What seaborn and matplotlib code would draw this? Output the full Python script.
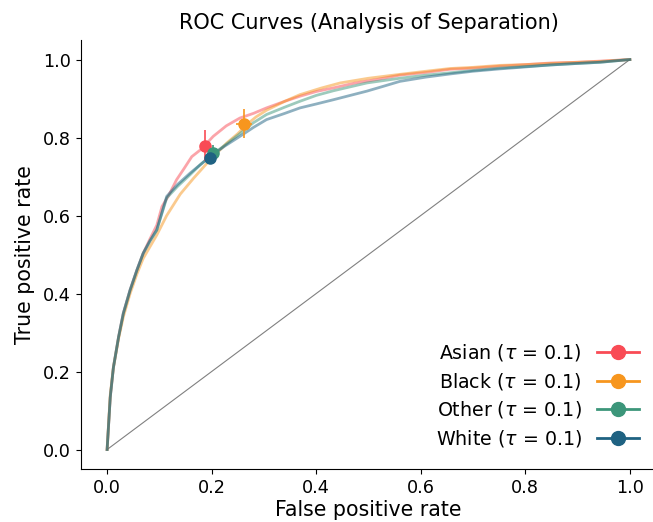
import numpy as np
import pandas as pd
import seaborn as sns
import matplotlib
matplotlib.use("Agg")
import matplotlib.pyplot as plt
from matplotlib.lines import Line2D

# ---------- data ----------
groups = ["Asian", "Black", "Other", "White"]
colors = ["#F94B55", "#F7961E", "#3C967A", "#1F6282"]

fpr_asian = [0.0, 0.006, 0.012, 0.022, 0.031, 0.044, 0.057, 0.069, 0.082, 0.095, 0.105, 0.118,
             0.133, 0.147, 0.162, 0.18, 0.203, 0.228, 0.254, 0.28, 0.305, 0.34, 0.369, 0.4,
             0.432, 0.475, 0.516, 0.56, 0.61, 0.656, 0.70, 0.751, 0.80, 0.847, 0.9, 0.943, 1.0]
tpr_asian = [0.0, 0.134, 0.21, 0.289, 0.349, 0.409, 0.46, 0.503, 0.54, 0.575, 0.623, 0.652,
             0.692, 0.72, 0.751, 0.77, 0.803, 0.83, 0.850, 0.862, 0.876, 0.893, 0.906, 0.918,
             0.927, 0.94, 0.949, 0.960, 0.967, 0.975, 0.978, 0.983, 0.987, 0.991, 0.993, 0.996, 1.0]

fpr_black = [0.0, 0.006, 0.012, 0.022, 0.031, 0.044, 0.057, 0.069, 0.082, 0.095, 0.114, 0.14,
             0.165, 0.195, 0.229, 0.25, 0.267, 0.285, 0.305, 0.34, 0.369, 0.41, 0.446, 0.5,
             0.56, 0.61, 0.656, 0.70, 0.751, 0.80, 0.847, 0.9, 0.943, 1.0]
tpr_black = [0.0, 0.14, 0.21, 0.285, 0.34, 0.40, 0.45, 0.49, 0.52, 0.55, 0.60, 0.655,
             0.695, 0.74, 0.786, 0.81, 0.833, 0.853, 0.870, 0.893, 0.910, 0.927, 0.940, 0.952,
             0.962, 0.97, 0.977, 0.98, 0.985, 0.987, 0.990, 0.993, 0.995, 1.0]

fpr_other = [0.0, 0.006, 0.012, 0.022, 0.031, 0.044, 0.057, 0.069, 0.082, 0.095, 0.114, 0.135,
             0.159, 0.178, 0.197, 0.225, 0.254, 0.28, 0.305, 0.34, 0.369, 0.4, 0.433, 0.465,
             0.497, 0.56, 0.61, 0.656, 0.70, 0.751, 0.80, 0.847, 0.9, 0.943, 1.0]
tpr_other = [0.0, 0.134, 0.21, 0.289, 0.349, 0.409, 0.46, 0.503, 0.535, 0.563, 0.645, 0.675,
             0.705, 0.73, 0.752, 0.78, 0.810, 0.838, 0.859, 0.878, 0.893, 0.908, 0.920, 0.93,
             0.940, 0.952, 0.96, 0.966, 0.972, 0.978, 0.982, 0.986, 0.99, 0.993, 1.0]

fpr_white = [0.0, 0.006, 0.012, 0.022, 0.031, 0.044, 0.057, 0.069, 0.082, 0.095, 0.114, 0.135,
             0.159, 0.178, 0.197, 0.225, 0.254, 0.28, 0.305, 0.34, 0.369, 0.4, 0.433, 0.465,
             0.497, 0.53, 0.56, 0.61, 0.656, 0.70, 0.751, 0.80, 0.847, 0.9, 0.943, 1.0]
tpr_white = [0.0, 0.134, 0.21, 0.289, 0.349, 0.409, 0.46, 0.503, 0.535, 0.563, 0.649, 0.68,
             0.709, 0.73, 0.751, 0.778, 0.803, 0.826, 0.846, 0.862, 0.876, 0.886, 0.897, 0.908,
             0.919, 0.932, 0.944, 0.955, 0.963, 0.97, 0.976, 0.981, 0.986, 0.99, 0.993, 1.0]

# operating points at tau = 0.1, with error half-widths
tau = 0.1
op_fpr = [0.187, 0.262, 0.203, 0.197]
op_tpr = [0.779, 0.835, 0.761, 0.748]
op_fpr_err = [0.010, 0.016, 0.006, 0.005]
op_tpr_err = [0.040, 0.037, 0.020, 0.015]

curves = pd.concat([
    pd.DataFrame({"fpr": fpr_asian, "tpr": tpr_asian, "group": "Asian"}),
    pd.DataFrame({"fpr": fpr_black, "tpr": tpr_black, "group": "Black"}),
    pd.DataFrame({"fpr": fpr_other, "tpr": tpr_other, "group": "Other"}),
    pd.DataFrame({"fpr": fpr_white, "tpr": tpr_white, "group": "White"}),
], ignore_index=True)

# ---------- plot ----------
plt.rcParams["font.family"] = ["DejaVu Sans"]
fig = plt.figure(figsize=(6.53, 5.22), dpi=100)
ax = fig.add_axes([0.124, 0.1015, 0.8806, 0.8218])

ax.plot([0, 1], [0, 1], color="grey", lw=0.8)

sns.lineplot(data=curves, x="fpr", y="tpr", hue="group", palette=colors,
             hue_order=groups, estimator=None, sort=False, lw=2, alpha=0.5,
             legend=False, ax=ax)

for g, c, x, y, xe, ye in zip(groups, colors, op_fpr, op_tpr, op_fpr_err, op_tpr_err):
    ax.errorbar(x, y, xerr=xe, yerr=ye, fmt="o", color=c, ms=8, elinewidth=1.2, zorder=5)

handles = [Line2D([], [], color=c, marker="o", ms=10, lw=2) for c in colors]
labels = [f"{g} ($\\tau$ = {tau})" for g in groups]
ax.legend(handles, labels, loc="lower right", frameon=False, markerfirst=False,
          fontsize=13.7, handlelength=2.2, labelspacing=0.4, handletextpad=0.8,
          bbox_to_anchor=(1.0, 0.007))

ax.set_xlim(-0.05, 1.05)
ax.set_ylim(-0.05, 1.05)
ax.set_xticks(np.arange(0, 1.01, 0.2))
ax.set_yticks(np.arange(0, 1.01, 0.2))
ax.tick_params(labelsize=12.7)
ax.set_xlabel("False positive rate", fontsize=14.8, labelpad=2)
ax.set_ylabel("True positive rate", fontsize=14.8, labelpad=6)
ax.set_title("ROC Curves (Analysis of Separation)", fontsize=15, pad=8)
sns.despine(ax=ax)

fig.savefig("out.png", dpi=100)
